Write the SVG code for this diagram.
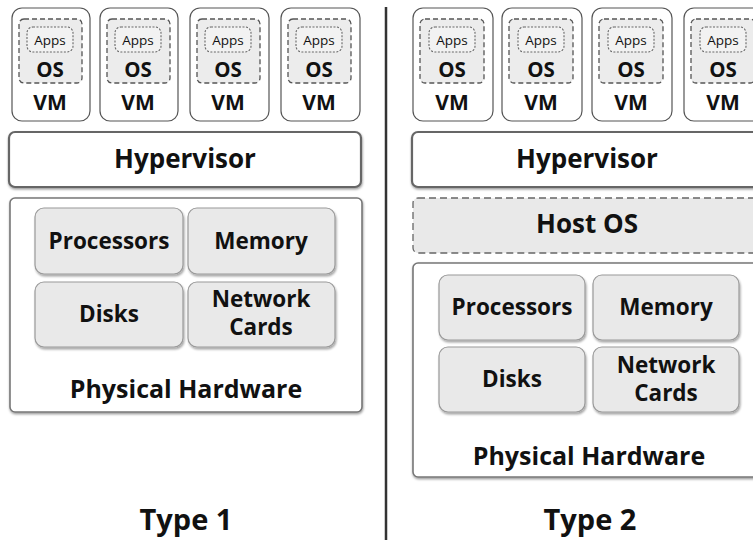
<svg xmlns="http://www.w3.org/2000/svg" width="753" height="540" viewBox="0 0 753 540">
<defs>
<filter id="sh" x="-10%" y="-10%" width="130%" height="140%">
<feDropShadow dx="1" dy="2" stdDeviation="1.2" flood-color="#000" flood-opacity="0.35"/>
</filter>
<filter id="sh2" x="-5%" y="-10%" width="115%" height="130%">
<feDropShadow dx="0.5" dy="1.5" stdDeviation="0.8" flood-color="#000" flood-opacity="0.4"/>
</filter>
</defs>
<style>
text{font-family:"Open Sans","Liberation Sans",sans-serif;fill:#111;text-anchor:middle}
.b{font-weight:bold}
.vm{fill:#fff;stroke:#555;stroke-width:1.2}
.os{fill:#ececec;stroke:#555;stroke-width:1.3;stroke-dasharray:5 3}
.apps{fill:#f2f2f2;stroke:#666;stroke-width:1.1;stroke-dasharray:2 1.5}
.hyp{fill:#fff;stroke:#666;stroke-width:2.2}
.hw{fill:#fff;stroke:#777;stroke-width:1.6}
.part{fill:#e9e9e9;stroke:#9a9a9a;stroke-width:1.2}
.host{fill:#e9e9e9;stroke:#666;stroke-width:1.3;stroke-dasharray:7 4}
.t-vm{font-size:21px}
.t-os{font-size:20.5px}
.t-apps{font-size:13.5px}
.t-big{font-size:26px}
.t-part{font-size:22.5px}
.t-hw{font-size:25px}
.t-type{font-size:29px}
</style>

<!-- Type 1 -->
<g id="t1-vm1">
<rect class="vm" x="12" y="8" width="78" height="113" rx="10"/>
<rect class="os" x="19" y="19" width="63" height="64" rx="5"/>
<rect class="apps" x="27" y="27" width="46" height="25" rx="6"/>
<text class="t-apps" x="50" y="45">Apps</text>
<text class="b t-os" x="50" y="77">OS</text>
<text class="b t-vm" x="50" y="110">VM</text>
</g>
<g id="t1-vm2">
<rect class="vm" x="100" y="8" width="78" height="113" rx="10"/>
<rect class="os" x="107" y="19" width="63" height="64" rx="5"/>
<rect class="apps" x="115" y="27" width="46" height="25" rx="6"/>
<text class="t-apps" x="138" y="45">Apps</text>
<text class="b t-os" x="138" y="77">OS</text>
<text class="b t-vm" x="138" y="110">VM</text>
</g>
<g id="t1-vm3">
<rect class="vm" x="190" y="8" width="79" height="113" rx="10"/>
<rect class="os" x="197" y="19" width="63" height="64" rx="5"/>
<rect class="apps" x="205" y="27" width="46" height="25" rx="6"/>
<text class="t-apps" x="228" y="45">Apps</text>
<text class="b t-os" x="228" y="77">OS</text>
<text class="b t-vm" x="228" y="110">VM</text>
</g>
<g id="t1-vm4">
<rect class="vm" x="281" y="8" width="79" height="113" rx="10"/>
<rect class="os" x="288" y="19" width="63" height="64" rx="5"/>
<rect class="apps" x="296" y="27" width="46" height="25" rx="6"/>
<text class="t-apps" x="319" y="45">Apps</text>
<text class="b t-os" x="319" y="77">OS</text>
<text class="b t-vm" x="319" y="110">VM</text>
</g>
<g id="t1-hypervisor">
<rect class="hyp" x="9" y="132" width="352" height="55" rx="6" filter="url(#sh2)"/>
<text class="b t-big" x="185" y="168">Hypervisor</text>
</g>
<g id="t1-hardware">
<rect class="hw" x="10" y="198" width="352" height="214" rx="5" filter="url(#sh2)"/>
<rect class="part" x="35" y="208" width="148" height="66" rx="9" filter="url(#sh)"/>
<text class="b t-part" x="109" y="249">Processors</text>
<rect class="part" x="188" y="208" width="147" height="66" rx="9" filter="url(#sh)"/>
<text class="b t-part" x="261" y="249">Memory</text>
<rect class="part" x="35" y="282" width="148" height="65" rx="9" filter="url(#sh)"/>
<text class="b t-part" x="109" y="322">Disks</text>
<rect class="part" x="188" y="282" width="147" height="65" rx="9" filter="url(#sh)"/>
<text class="b t-part" x="261" y="307">Network</text>
<text class="b t-part" x="261" y="335">Cards</text>
<text class="b t-hw" x="186" y="398">Physical Hardware</text>
</g>
<g id="t1-label">
<text class="b t-type" x="186" y="530">Type 1</text>
</g>

<!-- Type 2 -->
<g id="t2-vm1">
<rect class="vm" x="413" y="8" width="80" height="113" rx="10"/>
<rect class="os" x="420" y="19" width="64" height="64" rx="5"/>
<rect class="apps" x="429" y="27" width="46" height="25" rx="6"/>
<text class="t-apps" x="452" y="45">Apps</text>
<text class="b t-os" x="452" y="77">OS</text>
<text class="b t-vm" x="452" y="110">VM</text>
</g>
<g id="t2-vm2">
<rect class="vm" x="502" y="8" width="80" height="113" rx="10"/>
<rect class="os" x="509" y="19" width="64" height="64" rx="5"/>
<rect class="apps" x="518" y="27" width="46" height="25" rx="6"/>
<text class="t-apps" x="541" y="45">Apps</text>
<text class="b t-os" x="541" y="77">OS</text>
<text class="b t-vm" x="541" y="110">VM</text>
</g>
<g id="t2-vm3">
<rect class="vm" x="592" y="8" width="80" height="113" rx="10"/>
<rect class="os" x="599" y="19" width="64" height="64" rx="5"/>
<rect class="apps" x="608" y="27" width="46" height="25" rx="6"/>
<text class="t-apps" x="631" y="45">Apps</text>
<text class="b t-os" x="631" y="77">OS</text>
<text class="b t-vm" x="631" y="110">VM</text>
</g>
<g id="t2-vm4">
<rect class="vm" x="684" y="8" width="80" height="113" rx="10"/>
<rect class="os" x="691" y="19" width="64" height="64" rx="5"/>
<rect class="apps" x="700" y="27" width="46" height="25" rx="6"/>
<text class="t-apps" x="723" y="45">Apps</text>
<text class="b t-os" x="723" y="77">OS</text>
<text class="b t-vm" x="723" y="110">VM</text>
</g>
<g id="t2-hypervisor">
<rect class="hyp" x="412" y="132" width="352" height="55" rx="6" filter="url(#sh2)"/>
<text class="b t-big" x="587" y="168">Hypervisor</text>
</g>
<g id="t2-hostos">
<rect class="host" x="413" y="198" width="352" height="55" rx="5"/>
<text class="b t-big" x="587" y="233">Host OS</text>
</g>
<g id="t2-hardware">
<rect class="hw" x="413" y="263" width="352" height="214" rx="5" filter="url(#sh2)"/>
<rect class="part" x="439" y="275" width="146" height="65" rx="9" filter="url(#sh)"/>
<text class="b t-part" x="512" y="315">Processors</text>
<rect class="part" x="593" y="275" width="146" height="65" rx="9" filter="url(#sh)"/>
<text class="b t-part" x="666" y="315">Memory</text>
<rect class="part" x="439" y="347" width="146" height="65" rx="9" filter="url(#sh)"/>
<text class="b t-part" x="512" y="387">Disks</text>
<rect class="part" x="593" y="347" width="146" height="65" rx="9" filter="url(#sh)"/>
<text class="b t-part" x="666" y="373">Network</text>
<text class="b t-part" x="666" y="401">Cards</text>
<text class="b t-hw" x="589" y="465">Physical Hardware</text>
</g>
<g id="t2-label">
<text class="b t-type" x="590" y="530">Type 2</text>
</g>

<g id="connectors">
<line x1="386" y1="7" x2="386" y2="540" stroke="#333" stroke-width="2.5"/>
</g>
</svg>
